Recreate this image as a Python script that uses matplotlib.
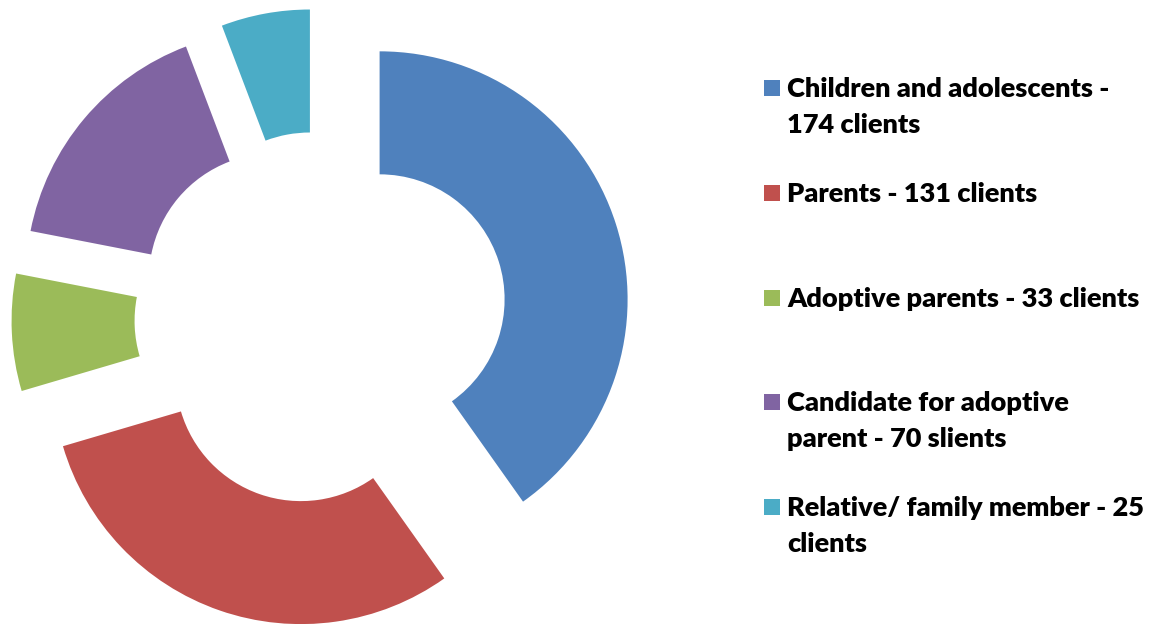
import matplotlib.pyplot as plt
from matplotlib.patches import Rectangle

# data
labels = ["Children and adolescents -\n174 clients",
          "Parents - 131 clients",
          "Adoptive parents - 33 clients",
          "Candidate for adoptive\nparent - 70 slients",
          "Relative/ family member - 25\nclients"]
values = [174, 131, 33, 70, 25]
colors = ["#4F81BD", "#C0504D", "#9BBB59", "#8064A2", "#4BACC6"]

W, H = 1151, 624
fig = plt.figure(figsize=(W / 100, H / 100), dpi=100)
ax = fig.add_axes([0, 0, 1, 1])

R = 248
ax.pie(values, colors=colors, startangle=90, counterclock=False,
       center=(321, H - 318), radius=R, explode=[61.5] * len(values),
       wedgeprops=dict(width=123, linewidth=0))
ax.set_xlim(0, W)
ax.set_ylim(0, H)
ax.set_aspect("equal")
ax.axis("off")

# legend drawn by hand
ys = [88, 193, 298, 402, 507]
for lab, col, y in zip(labels, colors, ys):
    ax.add_patch(Rectangle((764, H - y - 8), 16, 16, color=col, lw=0))
    ax.text(787, H - y + 11, lab, ha="left", va="top", fontsize=19.5,
            fontweight="heavy", family="Lato", linespacing=1.6)

fig.savefig("out.png", dpi=100)
